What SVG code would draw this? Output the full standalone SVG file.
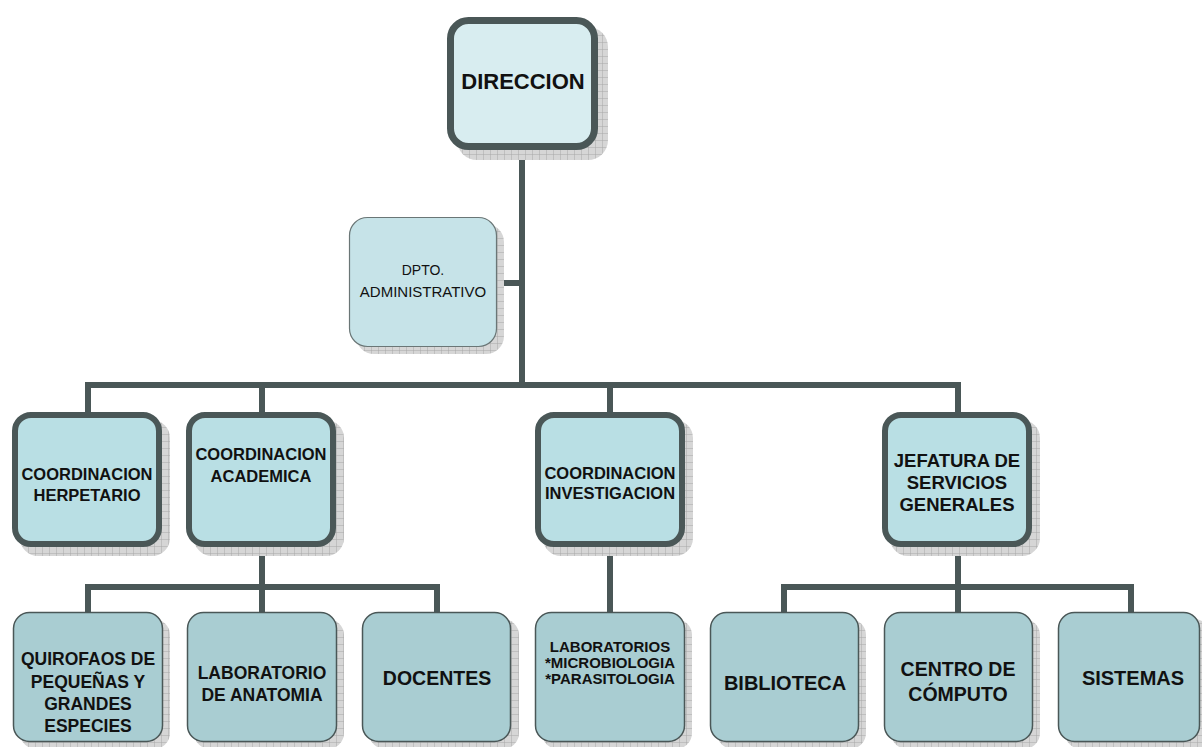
<svg xmlns="http://www.w3.org/2000/svg" width="1202" height="747" viewBox="0 0 1202 747">
<defs>
<pattern id="grid" width="7" height="7" patternUnits="userSpaceOnUse">
<rect width="7" height="7" fill="#d6d6d6"/>
<path d="M0 0H7M0 0V7" stroke="#a8a8a8" stroke-width="1" fill="none"/>
</pattern>
</defs>
<style>
.sh{fill:url(#grid)}
.top{fill:#d8edf0;stroke:#4a5757;stroke-width:7}
.dpto{fill:#c6e3e8;stroke:#6a7676;stroke-width:1.2}
.l2{fill:#b9dfe4;stroke:#4a5757;stroke-width:6}
.l3{fill:#a9cdd2;stroke:#4a5757;stroke-width:1.5}
.c{fill:none;stroke:#4a5757;stroke-width:6;stroke-linecap:square;stroke-linejoin:miter}
text{font-family:"Liberation Sans",Arial,sans-serif;fill:#111;text-anchor:middle}
.b{font-weight:bold}
</style>
<rect width="1202" height="747" fill="#ffffff"/>
<g id="connectors">
<path class="c" d="M522 152V385M497 283H522M88 385H958M88 385V410M262 385V410M610 385V410M958 385V410"/>
<path class="c" d="M262 549V587M88 587H437M88 587V610M262 587V610M437 587V610"/>
<path class="c" d="M610 549V610"/>
<path class="c" d="M958 549V587M784 587H1131M784 587V610M958 587V610M1131 587V610"/>
</g>
<g id="direccion">
<rect class="sh" x="457" y="27" width="151" height="133" rx="20"/>
<rect class="top" x="450.5" y="20.5" width="144" height="126" rx="18"/>
<text class="b" x="523" y="89" font-size="22">DIRECCION</text>
</g>
<g id="dpto">
<rect class="sh" x="356" y="224" width="148" height="130" rx="18"/>
<rect class="dpto" x="349.5" y="217.5" width="147" height="129" rx="18"/>
<text x="423" y="275" font-size="14">DPTO.</text>
<text x="423" y="297" font-size="15">ADMINISTRATIVO</text>
</g>
<g id="herpetario">
<rect class="sh" x="20" y="420" width="150" height="136" rx="18"/>
<rect class="l2" x="15" y="415" width="144" height="129" rx="16"/>
<text class="b" x="87" y="480" font-size="16.5">COORDINACION</text>
<text class="b" x="87" y="501" font-size="16.5">HERPETARIO</text>
</g>
<g id="academica">
<rect class="sh" x="194" y="420" width="150" height="136" rx="18"/>
<rect class="l2" x="189" y="415" width="144" height="129" rx="16"/>
<text class="b" x="261" y="460" font-size="16.5">COORDINACION</text>
<text class="b" x="261" y="482" font-size="16.5">ACADEMICA</text>
</g>
<g id="investigacion">
<rect class="sh" x="543" y="420" width="150" height="136" rx="18"/>
<rect class="l2" x="538" y="415" width="144" height="129" rx="16"/>
<text class="b" x="610" y="479" font-size="16.5">COORDINACION</text>
<text class="b" x="610" y="499" font-size="16.5">INVESTIGACION</text>
</g>
<g id="jefatura">
<rect class="sh" x="890" y="420" width="150" height="136" rx="18"/>
<rect class="l2" x="885" y="415" width="144" height="129" rx="16"/>
<text class="b" x="957" y="467" font-size="18.5">JEFATURA DE</text>
<text class="b" x="957" y="489" font-size="18.5">SERVICIOS</text>
<text class="b" x="957" y="511" font-size="18.5">GENERALES</text>
</g>
<g id="quirofaos">
<rect class="sh" x="20" y="619" width="150" height="130" rx="16"/>
<rect class="l3" x="13.5" y="612.5" width="149" height="129" rx="16"/>
<text class="b" x="88" y="665" font-size="17.5">QUIROFAOS DE</text>
<text class="b" x="88" y="688" font-size="17.5">PEQUEÑAS Y</text>
<text class="b" x="88" y="710" font-size="17.5">GRANDES</text>
<text class="b" x="88" y="732" font-size="17.5">ESPECIES</text>
</g>
<g id="anatomia">
<rect class="sh" x="194" y="619" width="150" height="130" rx="16"/>
<rect class="l3" x="187.5" y="612.5" width="149" height="129" rx="16"/>
<text class="b" x="262" y="679" font-size="17.5">LABORATORIO</text>
<text class="b" x="262" y="701" font-size="17.5">DE ANATOMIA</text>
</g>
<g id="docentes">
<rect class="sh" x="369" y="619" width="150" height="130" rx="16"/>
<rect class="l3" x="362.5" y="612.5" width="148" height="129" rx="16"/>
<text class="b" x="437" y="685" font-size="19.5">DOCENTES</text>
</g>
<g id="laboratorios">
<rect class="sh" x="542" y="619" width="150" height="130" rx="16"/>
<rect class="l3" x="535.5" y="612.5" width="149" height="129" rx="16"/>
<text class="b" x="610" y="652" font-size="15">LABORATORIOS</text>
<text class="b" x="610" y="668" font-size="15">*MICROBIOLOGIA</text>
<text class="b" x="610" y="684" font-size="15">*PARASITOLOGIA</text>
</g>
<g id="biblioteca">
<rect class="sh" x="717" y="619" width="149" height="130" rx="16"/>
<rect class="l3" x="710.5" y="612.5" width="148" height="129" rx="16"/>
<text class="b" x="785" y="690" font-size="20">BIBLIOTECA</text>
</g>
<g id="computo">
<rect class="sh" x="891" y="619" width="149" height="130" rx="16"/>
<rect class="l3" x="884.5" y="612.5" width="148" height="129" rx="16"/>
<text class="b" x="958" y="676" font-size="19.5">CENTRO DE</text>
<text class="b" x="958" y="701" font-size="19.5">CÓMPUTO</text>
</g>
<g id="sistemas">
<rect class="sh" x="1065" y="619" width="145" height="130" rx="16"/>
<rect class="l3" x="1058.5" y="612.5" width="141" height="129" rx="16"/>
<text class="b" x="1133" y="685" font-size="20">SISTEMAS</text>
</g>
</svg>
